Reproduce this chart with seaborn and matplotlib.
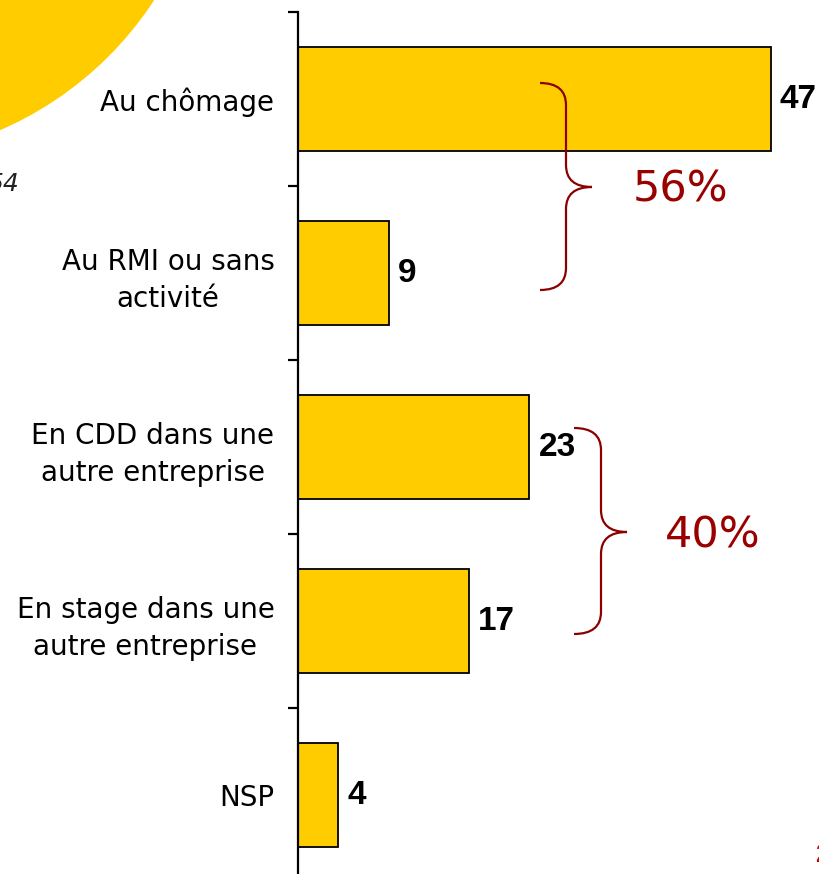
import matplotlib
matplotlib.use('Agg')
import matplotlib.pyplot as plt
import seaborn as sns
import pandas as pd
from matplotlib.patches import Circle, PathPatch
from matplotlib.path import Path
from matplotlib.transforms import Affine2D

# ---- data ----
categories = ["Au chômage", "Au RMI ou sans\nactivité", "En CDD dans une\nautre entreprise",
              "En stage dans une\nautre entreprise", "NSP"]
values = [47, 9, 23, 17, 4]
group_labels = ["56%", "40%"]

df = pd.DataFrame({"category": categories, "value": values})

sns.set_style('white')
plt.rcParams['font.family'] = ['DejaVu Sans']

W, H = 820, 874
fig = plt.figure(figsize=(W / 100, H / 100), dpi=100)
fig.patch.set_facecolor('white')
# pixel transform (origin top-left)
px = Affine2D().scale(1 / 100, -1 / 100).translate(0, H / 100) + fig.dpi_scale_trans

ax = fig.add_axes([298 / W, 1 - 882 / H, (W - 298) / W, 870 / H])
ax.patch.set_alpha(0)

sns.barplot(data=df, x="value", y="category", orient="h", color="#FFCC00",
            saturation=1, edgecolor="black", linewidth=1.3, width=0.6, ax=ax)

ax.set_xlim(0, (W - 298) / 10.06)
ax.set_ylim(4.5, -0.5)
ax.set_xlabel("")
ax.set_ylabel("")
ax.set_xticks([])

for s in ["top", "right", "bottom"]:
    ax.spines[s].set_visible(False)
ax.spines["left"].set_linewidth(1.6)
ax.spines["left"].set_color("black")

ax.set_yticks(range(len(categories)))
ax.set_yticklabels(categories)
ax.set_yticks([i - 0.5 for i in range(len(categories) + 1)], minor=True)
ax.tick_params(axis="y", which="major", length=0, pad=17, labelsize=20, labelcolor="black")
ax.tick_params(axis="y", which="minor", length=7.2, width=1.6, color="black", left=True)
for lab in ax.get_yticklabels():
    lab.set_multialignment("center")
    lab.set_linespacing(1.4)

for cont in ax.containers:
    ax.bar_label(cont, labels=[str(v) for v in values], padding=6.5,
                 fontsize=24, fontweight="bold", family="Liberation Sans", color="black")

# ---- decorations ----
fig.add_artist(Circle((-139, -191), 350, transform=px, facecolor="#FFCC00",
                      edgecolor="none", zorder=0))
fig.text(19, 191, "54", transform=px, ha="right", va="baseline", fontsize=18,
         style="italic", color="#222222")
fig.text(815, 862, "2", transform=px, ha="left", va="baseline", fontsize=18,
         fontweight="bold", family="Liberation Sans", color="#CC0000")

brace_color = "#8B0000"


def brace(x0, xv, xt, ytop, ymid, ybot, r=22):
    verts = [(x0, ytop), (xv, ytop), (xv, ytop + r),
             (xv, ymid - r), (xv, ymid), (xt, ymid),
             (xv, ymid), (xv, ymid + r),
             (xv, ybot - r), (xv, ybot), (x0, ybot)]
    codes = [Path.MOVETO, Path.CURVE3, Path.CURVE3,
             Path.LINETO, Path.CURVE3, Path.CURVE3,
             Path.CURVE3, Path.CURVE3,
             Path.LINETO, Path.CURVE3, Path.CURVE3]
    fig.add_artist(PathPatch(Path(verts, codes), transform=px, facecolor="none",
                             edgecolor=brace_color, linewidth=1.6, zorder=5))


brace(540, 566, 592, 83, 187, 290)
brace(574, 601, 627, 428, 532, 634)

fig.text(680, 190, group_labels[0], transform=px, ha="center", va="center",
         fontsize=31, color="#990000")
fig.text(713, 535, group_labels[1], transform=px, ha="center", va="center",
         fontsize=31, color="#990000")

fig.savefig("out.png", dpi=100, facecolor="white")
